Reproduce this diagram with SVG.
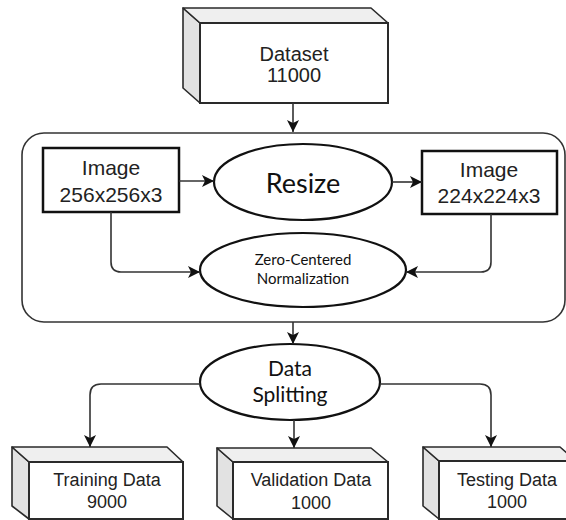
<svg xmlns="http://www.w3.org/2000/svg" width="566" height="520" viewBox="0 0 566 520">
<defs>
<style>
.side{fill:#e2e2e2;stroke:#2a2a2a;stroke-width:1.6;stroke-linejoin:round}
.top{fill:#efefef;stroke:#2a2a2a;stroke-width:1.6;stroke-linejoin:round}
.front{fill:#fff;stroke:#2a2a2a;stroke-width:2}
.box{fill:#fff;stroke:#111;stroke-width:2.5}
.ell{fill:#fff;stroke:#111;stroke-width:2.2}
.cont{fill:none;stroke:#333;stroke-width:1.6}
.con{fill:none;stroke:#333;stroke-width:1.6}
.ar{font-family:"Liberation Sans",Arial,sans-serif;fill:#222;text-anchor:middle}
.ca{font-family:Lato,"Noto Sans",sans-serif;fill:#111;text-anchor:middle}
</style>
<marker id="ah" markerUnits="userSpaceOnUse" markerWidth="12" markerHeight="12" viewBox="0 0 12 12" refX="12" refY="6" orient="auto">
<path d="M0,0 L12,6 L0,12 L3,6 z" fill="#111"/>
</marker>
</defs>
<rect width="566" height="520" fill="#fff"/>

<g id="container">
<rect class="cont" x="22" y="133" width="543" height="189" rx="22"/>
</g>

<g id="dataset">
<polygon class="side" points="183,8 200,23 200,103 183,88"/>
<polygon class="top" points="183,8 371,8 388,23 200,23"/>
<rect class="front" x="200" y="23" width="188" height="80"/>
<text class="ar" x="294" y="61" font-size="20">Dataset</text>
<text class="ar" x="294" y="82" font-size="20">11000</text>
</g>

<g id="image-in">
<rect class="box" x="43" y="148" width="136" height="64"/>
<text class="ar" x="111" y="175" font-size="21">Image</text>
<text class="ar" x="111" y="202" font-size="21">256x256x3</text>
</g>

<g id="resize">
<ellipse class="ell" cx="303" cy="182" rx="89" ry="38"/>
<text class="ca" x="303" y="193" font-size="27">Resize</text>
</g>

<g id="image-out">
<rect class="box" x="422" y="151" width="135" height="63"/>
<text class="ar" x="489" y="177" font-size="21">Image</text>
<text class="ar" x="489" y="203" font-size="21">224x224x3</text>
</g>

<g id="normalization">
<ellipse class="ell" cx="303" cy="270" rx="103" ry="37"/>
<text class="ca" x="303" y="265" font-size="15">Zero-Centered</text>
<text class="ca" x="303" y="284" font-size="15">Normalization</text>
</g>

<g id="splitting">
<ellipse class="ell" cx="290" cy="382" rx="90" ry="38"/>
<text class="ca" x="290" y="376" font-size="21">Data</text>
<text class="ca" x="290" y="402" font-size="21">Splitting</text>
</g>

<g id="training">
<polygon class="side" points="12,447 29,462 29,519 12,506"/>
<polygon class="top" points="12,447 167,447 183,462 29,462"/>
<rect class="front" x="29" y="462" width="154" height="57"/>
<text class="ar" x="107" y="486" font-size="18">Training Data</text>
<text class="ar" x="107" y="508" font-size="18">9000</text>
</g>

<g id="validation">
<polygon class="side" points="217,448 233,462 233,519 217,506"/>
<polygon class="top" points="217,448 371,448 388,462 233,462"/>
<rect class="front" x="233" y="462" width="155" height="57"/>
<text class="ar" x="311" y="486" font-size="18">Validation Data</text>
<text class="ar" x="311" y="509" font-size="18">1000</text>
</g>

<g id="testing">
<polygon class="side" points="423,447 439,461 439,519 423,506"/>
<polygon class="top" points="423,447 560,447 576,461 439,461"/>
<rect class="front" x="439" y="461" width="140" height="58"/>
<text class="ar" x="507" y="486" font-size="18">Testing Data</text>
<text class="ar" x="507" y="508" font-size="18">1000</text>
</g>

<g id="connectors">
<path class="con" d="M293,103 V132" marker-end="url(#ah)"/>
<path class="con" d="M179,181 H214" marker-end="url(#ah)"/>
<path class="con" d="M392,182 H422" marker-end="url(#ah)"/>
<path class="con" d="M111,212 V262 Q111,272 121,272 H200" marker-end="url(#ah)"/>
<path class="con" d="M491,214 V262 Q491,272 481,272 H406" marker-end="url(#ah)"/>
<path class="con" d="M293,322 V344" marker-end="url(#ah)"/>
<path class="con" d="M200,384 H101 Q90,384 90,395 V447" marker-end="url(#ah)"/>
<path class="con" d="M294,420 V448" marker-end="url(#ah)"/>
<path class="con" d="M380,384 H480 Q491,384 491,395 V447" marker-end="url(#ah)"/>
</g>
</svg>
